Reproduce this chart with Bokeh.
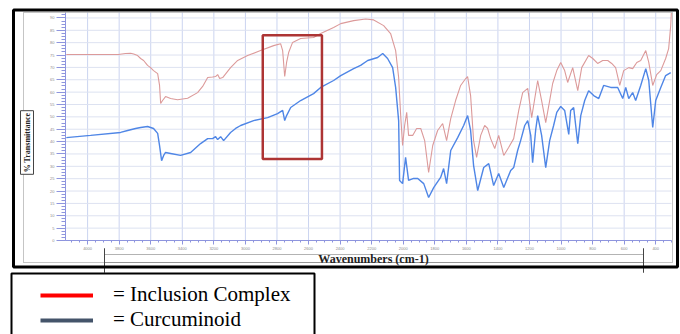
import numpy as np
from bokeh.plotting import figure
from bokeh.models import Range1d, BoxAnnotation, Label, Legend, LegendItem, FixedTicker
from bokeh.embed import file_html
from bokeh.resources import INLINE

# ---------------- data (wavenumber cm-1, % transmittance) ----------------
ic_wn = [4135, 3805, 3760, 3727, 3708, 3683, 3664, 3645, 3620, 3601,
         3582, 3556, 3544, 3537, 3525, 3506, 3474, 3430, 3366, 3303,
         3271, 3239, 3208, 3189, 3176, 3163, 3144, 3094, 3049, 2986,
         2904, 2821, 2777, 2764, 2751, 2739, 2726, 2701, 2650, 2568,
         2523, 2441, 2396, 2314, 2238, 2187, 2124, 2080, 2048, 2029,
         2016, 2004, 1991, 1978, 1966, 1940, 1915, 1889, 1864, 1839,
         1813, 1782, 1750, 1725, 1699, 1668, 1636, 1604, 1592, 1573,
         1554, 1535, 1509, 1484, 1465, 1446, 1420, 1395, 1363, 1332,
         1300, 1268, 1243, 1211, 1186, 1148, 1123, 1097, 1072, 1053,
         1027, 1002, 977, 958, 926, 894, 869, 825, 799, 768,
         736, 704, 679, 654, 628, 603, 571, 546, 520, 495,
         463, 444, 419, 394, 368, 337, 318, 305, 301]
ic_t = [75.2, 75.2, 75.6, 75.7, 75.4, 74.8, 73.6, 72.8, 70.8, 69.9,
        68.7, 67.5, 62.7, 55.4, 56.6, 58.2, 57.4, 56.9, 57.5, 59.8,
        62.3, 65.9, 66.1, 66.3, 67.1, 65.5, 65.9, 69.9, 72.8, 74.8,
        76.8, 78.8, 79.6, 76.8, 66.3, 72.0, 76.0, 80.1, 81.7, 82.1,
        83.7, 86.1, 87.7, 88.9, 89.6, 89.2, 86.9, 83.7, 76.8, 65.9,
        50.5, 38.4, 46.5, 51.8, 42.5, 42.5, 45.3, 45.3, 40.4, 27.5,
        38.4, 44.5, 47.3, 40.4, 49.3, 56.6, 62.7, 65.5, 66.3, 58.6,
        40.4, 33.6, 42.5, 46.5, 45.3, 41.2, 37.2, 42.5, 34.4, 37.6,
        41.2, 52.6, 59.8, 61.5, 49.7, 64.7, 56.6, 47.7, 56.6, 63.5,
        68.7, 72.0, 68.7, 63.9, 69.9, 60.6, 69.9, 74.8, 73.6, 71.6,
        72.8, 72.8, 71.6, 69.9, 62.7, 68.7, 69.9, 69.5, 72.0, 72.8,
        76.8, 72.0, 62.7, 67.1, 68.7, 73.6, 77.6, 86.9, 92.0]

cur_wn = [4135, 3981, 3791, 3746, 3696, 3664, 3620, 3582, 3556, 3544,
          3531, 3518, 3506, 3474, 3411, 3347, 3284, 3239, 3208, 3189,
          3176, 3157, 3138, 3094, 3062, 3030, 2948, 2859, 2796, 2764,
          2751, 2739, 2713, 2650, 2568, 2523, 2441, 2396, 2314, 2270,
          2225, 2162, 2130, 2099, 2067, 2048, 2029, 2023, 2004, 1985,
          1966, 1934, 1908, 1870, 1839, 1807, 1763, 1744, 1725, 1699,
          1655, 1617, 1592, 1573, 1554, 1528, 1490, 1458, 1427, 1395,
          1363, 1319, 1300, 1275, 1256, 1230, 1211, 1192, 1180, 1161,
          1148, 1123, 1097, 1072, 1047, 1027, 1002, 977, 951, 939,
          920, 894, 875, 850, 825, 793, 761, 730, 685, 641,
          609, 590, 571, 546, 527, 495, 463, 444, 419, 400,
          368, 337, 305]
cur_t = [41.6, 42.5, 43.7, 44.5, 45.3, 45.7, 46.1, 45.3, 43.3, 38.4,
         32.3, 34.4, 35.6, 35.2, 34.4, 35.6, 39.2, 41.2, 41.2, 42.0,
         40.8, 42.0, 40.4, 43.7, 45.3, 46.5, 48.5, 49.7, 51.3, 52.6,
         48.5, 50.5, 53.8, 56.6, 59.4, 61.9, 64.7, 66.7, 69.5, 70.8,
         72.8, 74.0, 75.6, 73.6, 69.9, 61.9, 48.5, 24.3, 23.0, 33.6,
         24.3, 25.1, 25.1, 23.0, 17.4, 21.4, 25.5, 29.1, 23.0, 36.4,
         41.6, 46.5, 50.5, 44.5, 30.3, 20.2, 29.5, 31.1, 22.2, 27.1,
         21.4, 28.3, 29.5, 36.4, 40.4, 46.5, 48.5, 42.5, 31.5, 44.5,
         50.5, 42.5, 29.5, 40.4, 46.5, 51.8, 54.2, 52.6, 42.9, 52.6,
         53.8, 39.2, 50.5, 56.6, 60.6, 58.6, 57.4, 62.7, 61.9, 61.9,
         57.4, 61.9, 57.4, 59.8, 56.6, 62.7, 69.5, 64.7, 45.7, 56.6,
         61.9, 66.7, 67.9]

# highlighted region (wavenumber span, %T span)
box_wn = [2890, 2515]
box_t = [83, 33]

# spectrum window and ticks
WN_HI, WN_LO = 4140, 300
T_LO, T_HI = 0, 92.2
x_ticks = list(range(4000, 399, -200))
x_minor = list(range(4100, 299, -50))
y_ticks = list(range(0, 91, 5))
y_minor = [v * 1.25 for v in range(0, 74)]

legend_labels = ["= Inclusion Complex", "= Curcuminoid"]
y_title = "% Transmittance"
x_title = "Wavenumbers (cm-1)"

# ---------------- layout geometry (pixels) ----------------
W, H = 680, 334
FL, FR, FT, FB = 65, 671, 12, 240          # spectrum window on the canvas
wpx = (WN_HI - WN_LO) / (FR - FL)
tpx = (T_HI - T_LO) / (FB - FT)
x_range = Range1d(WN_HI + FL * wpx, WN_LO - (W - FR) * wpx)
y_range = Range1d(T_LO - (H - FB) * tpx, T_HI + FT * tpx)

p = figure(width=W, height=H, x_range=x_range, y_range=y_range,
           output_backend="svg", toolbar_location=None, min_border=0,
           background_fill_color="white", border_fill_color="white")
p.outline_line_color = None
p.grid.visible = False

# grid lines inside the spectrum window
p.segment(x0=x_ticks, x1=x_ticks, y0=[T_LO] * len(x_ticks), y1=[T_HI] * len(x_ticks),
          line_color="#cbd4f0", line_width=1)
p.segment(x0=[WN_HI] * len(y_ticks), x1=[WN_LO] * len(y_ticks), y0=y_ticks, y1=y_ticks,
          line_color="#dde2f1", line_width=1)

# axes drawn at the spectrum window edges
AX = "#8e95de"
xa, ya = p.xaxis[0], p.yaxis[0]
xa.fixed_location = T_LO
xa.bounds = (WN_LO, WN_HI)
ya.fixed_location = WN_HI
ya.bounds = (T_LO, T_HI)
for ax in (xa, ya):
    ax.axis_line_color = AX
    ax.major_tick_line_color = AX
    ax.minor_tick_line_color = AX
    ax.major_tick_in = 0
    ax.minor_tick_in = 0
    ax.major_label_text_font = "Liberation Sans"
    ax.major_label_text_font_size = "4px"
    ax.major_label_text_color = "#8c8c8c"
xa.ticker = FixedTicker(ticks=x_ticks, minor_ticks=x_minor)
ya.ticker = FixedTicker(ticks=y_ticks, minor_ticks=y_minor)
xa.major_tick_out = 4
xa.minor_tick_out = 2
xa.major_label_standoff = 2
ya.major_tick_out = 9
ya.minor_tick_out = 4
ya.major_label_standoff = 2

# spectra
p.line(ic_wn, ic_t, line_color="#dc9a9a", line_width=1.1)
p.line(cur_wn, cur_t, line_color="#4f86e6", line_width=1.4)
p.quad(left=[box_wn[0]], right=[box_wn[1]], top=[box_t[0]], bottom=[box_t[1]],
       fill_color=None, line_color="#ad3434", line_width=2.5)

# ---------------- decorations (canvas pixels) ----------------
def cbox(l, r, t, b, **kw):
    return BoxAnnotation(left=l, right=r, top=t, bottom=b,
                         left_units="canvas", right_units="canvas",
                         top_units="canvas", bottom_units="canvas",
                         fill_color=None, fill_alpha=0, line_alpha=1, **kw)

p.add_layout(cbox(23, 672, 12, 262, line_color="#8a8a8a", line_width=1, line_dash="1 1"))
p.add_layout(cbox(104, 643, 254, 262, line_color="#666666", line_width=1, line_dash="1 1"))
p.add_layout(cbox(104, 104, 248, 272, line_color="#444444", line_width=1))
p.add_layout(cbox(643, 643, 248, 272, line_color="#444444", line_width=1))
p.add_layout(cbox(13, 677, 9.5, 266.5, line_color="black", line_width=3))
p.add_layout(cbox(11, 314, 273, 345, line_color="black", line_width=2))

p.add_layout(Label(x=26.5, y=142, x_units="canvas", y_units="canvas", text=y_title,
                   angle=np.pi / 2, text_align="center", text_baseline="middle",
                   text_font="Liberation Serif", text_font_style="bold", text_font_size="8px",
                   text_color="#222222", border_line_color="#444444",
                   background_fill_color="white", padding=2))
p.add_layout(Label(x=373, y=258, x_units="canvas", y_units="canvas", text=x_title,
                   text_align="center", text_baseline="middle",
                   text_font="Liberation Serif", text_font_style="bold", text_font_size="12px",
                   text_color="#222222"))

# ---------------- legend ----------------
nan2 = [float("nan"), float("nan")]
r1 = p.line(nan2, nan2, line_color="#ff0000", line_width=4)
r2 = p.line(nan2, nan2, line_color="#44546a", line_width=4)
legend = Legend(items=[LegendItem(label=legend_labels[0], renderers=[r1]),
                       LegendItem(label=legend_labels[1], renderers=[r2])],
                location=(40, 2), padding=0, spacing=0, margin=0,
                glyph_width=53, glyph_height=20, label_height=20, label_standoff=20,
                label_text_font="Liberation Serif", label_text_font_size="21px",
                label_text_color="black",
                border_line_alpha=0, background_fill_alpha=0)
p.add_layout(legend)

open("out.html", "w").write(file_html(p, INLINE))
